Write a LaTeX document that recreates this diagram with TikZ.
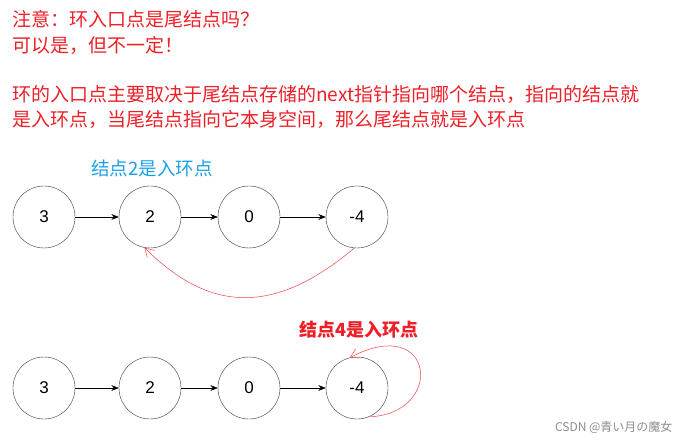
\documentclass[tikz,border=0pt]{standalone}
\usepackage{fontspec}
\setmainfont{Noto Sans CJK SC}
\newfontfamily\numfont{Liberation Sans}
\usetikzlibrary{positioning,arrows.meta}
\definecolor{notered}{RGB}{236,32,40}
\definecolor{entryblue}{RGB}{28,160,230}

\begin{document}
\begin{tikzpicture}[x=1bp,y=-1bp,>={Stealth[length=2.6mm,width=2mm]},
  listnode/.style={draw=black!80,circle,minimum size=62bp,inner sep=0pt,font=\numfont\fontsize{17bp}{20bp}\selectfont},
  note/.style={anchor=west,inner sep=0pt,text=notered,font=\fontsize{19bp}{22bp}\selectfont},
  loopline/.style={draw=notered!85,line width=0.5pt,-{Straight Barb[length=3mm,width=3.6mm]}}]
\useasboundingbox (0,0) rectangle (683,440);
% notes at the top
\node[note] (t1) at (12,19) {注意：环入口点是尾结点吗？};
\node[note] (t2) at (12,45) {可以是，但不一定！};
\node[note] (t3) at (12,95) {环的入口点主要取决于尾结点存储的next指针指向哪个结点，指向的结点就};
\node[note] (t4) at (12,119) {是入环点，当尾结点指向它本身空间，那么尾结点就是入环点};
% first list
\node[text=entryblue,font=\fontsize{18.5bp}{20bp}\selectfont] (lab1) at (152,168) {结点2是入环点};
\node[listnode] (a1) at (44,217) {3};
\node[listnode] (b1) at (150,217) {2};
\node[listnode] (c1) at (249,217) {0};
\node[listnode] (d1) at (357,217) {-4};
\draw[->] (a1) -- (b1);
\draw[->] (b1) -- (c1);
\draw[->] (c1) -- (d1);
\draw[loopline] (d1.-95) to[out=-140,in=-45,looseness=1.2] (b1.-100);
% second list
\node[text=notered,font=\bfseries\fontsize{18bp}{20bp}\selectfont] (lab2) at (359,330) {结点4是入环点};
\node[listnode] (a2) at (44,388) {3};
\node[listnode] (b2) at (150,388) {2};
\node[listnode] (c2) at (249,388) {0};
\node[listnode] (d2) at (357,388) {-4};
\draw[->] (a2) -- (b2);
\draw[->] (b2) -- (c2);
\draw[->] (c2) -- (d2);
\draw[loopline] (d2.-68) .. controls +(77,-3) and +(85,-45) .. (d2.103);
% watermark
\node[anchor=east,text=black!45,font=\fontsize{12bp}{14bp}\selectfont] (mark) at (676,427) {CSDN @青い月の魔女};
\end{tikzpicture}
\end{document}
